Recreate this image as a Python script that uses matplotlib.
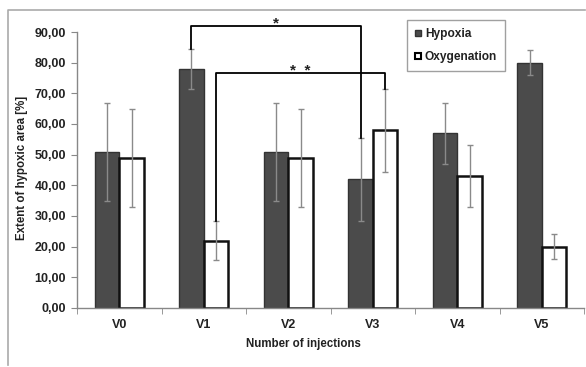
import matplotlib
matplotlib.use("Agg")
import matplotlib.pyplot as plt
from matplotlib.lines import Line2D
import numpy as np

categories = ["V0", "V1", "V2", "V3", "V4", "V5"]
hypoxia = [51, 78, 51, 42, 57, 80]
hypoxia_err = [16, 6.5, 16, 13.5, 10, 4]
oxygenation = [49, 22, 49, 58, 43, 20]
oxygenation_err = [16, 6.5, 16, 13.5, 10, 4]
yticks = [0, 10, 20, 30, 40, 50, 60, 70, 80, 90]

plt.rcParams['font.family'] = ['Liberation Sans', 'DejaVu Sans']

fig = plt.figure(figsize=(5.86, 3.67), dpi=100)
ax = fig.add_axes([0.1314, 0.1608, 0.8652, 0.752])

x = np.arange(len(categories))
w = 0.29
ax.bar(x - w / 2, hypoxia, w, color="#4b4b4b", edgecolor="#333333", linewidth=1.0, zorder=2)
ax.bar(x + w / 2, oxygenation, w, color="white", edgecolor="#111111", linewidth=1.8, zorder=2)
ax.errorbar(x - w / 2, hypoxia, yerr=hypoxia_err, fmt="none", ecolor="#8a8a8a",
            elinewidth=1.0, capsize=2, capthick=1.0, zorder=3)
ax.errorbar(x + w / 2, oxygenation, yerr=oxygenation_err, fmt="none", ecolor="#8a8a8a",
            elinewidth=1.0, capsize=2, capthick=1.0, zorder=3)

ax.set_xlim(-0.5, len(categories) - 0.5)
ax.set_ylim(0, 90)
ax.set_yticks(yticks)
ax.set_yticklabels([f"{v:.2f}".replace(".", ",") for v in yticks], fontweight="bold", fontsize=9, color="#222222")
ax.set_xticks(x)
ax.set_xticklabels(categories, fontweight="bold", fontsize=9, color="#222222")
ax.tick_params(axis="x", which="major", length=0, pad=8)
ax.set_xticks(np.arange(-0.5, len(categories), 1.0), minor=True)
ax.tick_params(axis="x", which="minor", length=4, color="#888888", direction="out")
ax.tick_params(axis="y", length=4, color="#888888", direction="out", pad=4)

for s in ["top", "right"]:
    ax.spines[s].set_visible(False)
for s in ["left", "bottom"]:
    ax.spines[s].set_color("#888888")
    ax.spines[s].set_linewidth(1.0)

fig.text(303 / 586, 1 - 344 / 367, "Number of injections", ha="center", va="center",
         fontweight="bold", fontsize=8.3, color="#222222")
fig.text(22 / 586, 1 - 168 / 367, "Extent of hypoxic area [%]", ha="center", va="center",
         rotation=90, fontweight="bold", fontsize=8.3, color="#222222")

# significance brackets
def bracket(x1, y1, x2, y2, top, label):
    ax.plot([x1, x1, x2, x2], [y1, top, top, y2], color="black", linewidth=1.3,
            clip_on=False, zorder=4)
    ax.text((x1 + x2) / 2, top + 0.7, label, ha="center", va="center", fontsize=11,
            fontweight="bold", color="#222222")

bracket(1 - w / 2, hypoxia[1] + hypoxia_err[1], 3 - w / 2, hypoxia[3] + hypoxia_err[3], 92, "*")
bracket(1 + w / 2, oxygenation[1] + oxygenation_err[1], 3 + w / 2, oxygenation[3] + oxygenation_err[3], 76.6, "*  *")

handles = [Line2D([], [], marker="s", linestyle="none", markersize=5, markerfacecolor="#4b4b4b",
                  markeredgecolor="#333333"),
           Line2D([], [], marker="s", linestyle="none", markersize=5, markerfacecolor="white",
                  markeredgecolor="black", markeredgewidth=1.5)]
leg = ax.legend(handles, ["Hypoxia", "Oxygenation"], loc="upper left",
                bbox_to_anchor=(407 / 586, 1 - 20 / 367), bbox_transform=fig.transFigure,
                borderaxespad=0, frameon=True, fancybox=False, edgecolor="#888888",
                handlelength=0.6, handletextpad=0.25, labelspacing=0.95, borderpad=0.65,
                prop={"weight": "bold", "size": 8.6})
leg.get_frame().set_linewidth(1.0)
for t in leg.get_texts():
    t.set_color("#222222")

# figure frame (top and left)
fig.add_artist(Line2D([8 / 586, 8 / 586, 585 / 586], [1 - 365 / 367, 1 - 10 / 367, 1 - 10 / 367],
                      transform=fig.transFigure, color="#aaaaaa", linewidth=1.2))

fig.savefig("out.png", dpi=100)
